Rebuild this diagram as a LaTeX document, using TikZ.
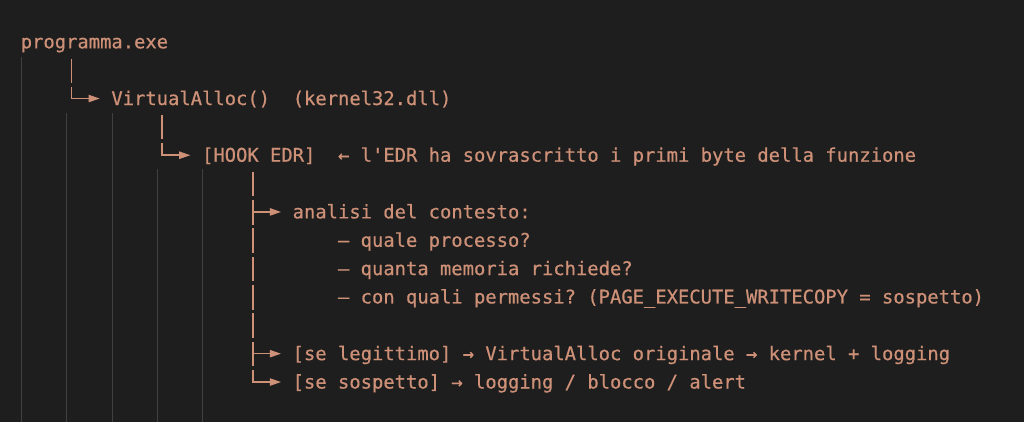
\documentclass[tikz,border=0pt]{standalone}
\usepackage{fontspec}
\setmonofont[FakeBold=0.5]{DejaVu Sans Mono}
\usetikzlibrary{arrows.meta}
\definecolor{bg}{HTML}{1E1E1E}
\definecolor{codetxt}{HTML}{CE9178}
\definecolor{guide}{HTML}{404040}
\tikzset{
  codeline/.style={anchor=base west, inner sep=0pt, text height=13.1pt, text depth=3.4pt,
    text=codetxt, font=\ttfamily\fontsize{14.12pt}{21pt}\selectfont\frenchspacing},
  tree/.style={draw=codetxt, line width=1.2pt, -{Triangle[length=8.4pt,width=5.4pt]}, shorten >=8.5pt},
  gapcut/.style={draw=bg, line width=3pt},
  indentguide/.style={draw=guide, line width=0.75pt}
}
\begin{document}
\begin{tikzpicture}[x=0.75pt,y=-0.75pt]
\fill[bg] (0,0) rectangle (1024,422);
\useasboundingbox (0,0) rectangle (1024,422);
% indent guides
\draw[indentguide] (21,57.3) -- (21,422);
\draw[indentguide] (66.5,113.3) -- (66.5,422);
\draw[indentguide] (112,113.3) -- (112,422);
\draw[indentguide] (157.3,169.3) -- (157.3,422);
\draw[indentguide] (202.8,169.3) -- (202.8,422);
% text lines
\node[codeline] (prog) at (20.5,48.3) {programma.exe};
\node[codeline] (va) at (111.14,105) {VirtualAlloc()\ \ (kernel32.dll)};
\node[codeline] (hook) at (201.78,161.7) {[HOOK EDR]\ \ ← l'EDR ha sovrascritto i primi byte della funzione};
\node[codeline] (ana) at (292.42,218.4) {analisi del contesto:};
\node[codeline] (q1) at (337.74,246.75) {– quale processo?};
\node[codeline] (q2) at (337.74,275.1) {– quanta memoria richiede?};
\node[codeline] (q3) at (337.74,303.45) {– con quali permessi? (PAGE\_EXECUTE\_WRITECOPY = sospetto)};
\node[codeline] (leg) at (292.42,360.15) {[se legittimo] → VirtualAlloc originale → kernel + logging};
\node[codeline] (sos) at (292.42,388.5) {[se sospetto] → logging / blocco / alert};
% tree columns
\coordinate (c4) at (71.49,0);
\coordinate (c12) at (162.13,0);
\coordinate (c20) at (252.77,0);
\path (prog.south) ++(0,5.5) coordinate (p1);
\path (va.south) ++(0,5.5) coordinate (p2);
\path (hook.south) ++(0,5.5) coordinate (p3);
\draw[tree] (p1 -| c4) |- (va);
\draw[tree] (p2 -| c12) |- (hook);
\draw[tree] (p3 -| c20) |- (ana);
\draw[tree] (p3 -| c20) |- (leg);
\draw[tree] (p3 -| c20) |- (sos);
% small gaps between the rows of the text-drawn tree
\draw[gapcut] (71.49,82.7) -- (71.49,86.6);
\draw[gapcut] (162.13,139.4) -- (162.13,143.3);
\foreach \b in {190.05,218.4,246.75,275.1,303.45,331.8,360.15}
  \draw[gapcut] (252.77,\b+6.1) -- (252.77,\b+10.0);
\end{tikzpicture}
\end{document}
